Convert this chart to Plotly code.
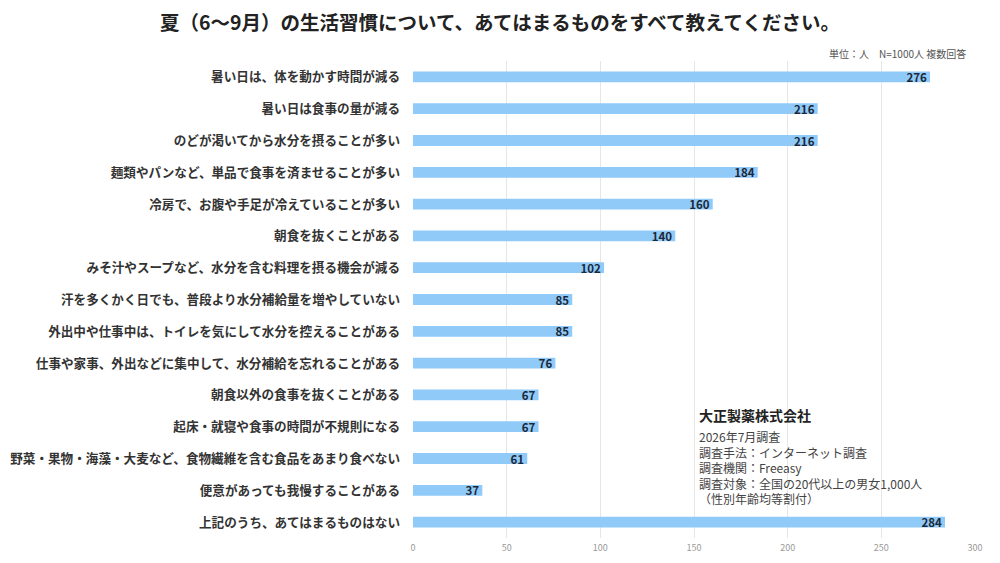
import plotly.graph_objects as go

# 回答項目（上から順）
items = [
    "暑い日は、体を動かす時間が減る",
    "暑い日は食事の量が減る",
    "のどが渇いてから水分を摂ることが多い",
    "麺類やパンなど、単品で食事を済ませることが多い",
    "冷房で、お腹や手足が冷えていることが多い",
    "朝食を抜くことがある",
    "みそ汁やスープなど、水分を含む料理を摂る機会が減る",
    "汗を多くかく日でも、普段より水分補給量を増やしていない",
    "外出中や仕事中は、トイレを気にして水分を控えることがある",
    "仕事や家事、外出などに集中して、水分補給を忘れることがある",
    "朝食以外の食事を抜くことがある",
    "起床・就寝や食事の時間が不規則になる",
    "野菜・果物・海藻・大麦など、食物繊維を含む食品をあまり食べない",
    "便意があっても我慢することがある",
    "上記のうち、あてはまるものはない",
]
counts = [276, 216, 216, 184, 160, 140, 102, 85, 85, 76, 67, 67, 61, 37, 284]
x_ticks = [0, 50, 100, 150, 200, 250, 300]

title = "夏（6～9月）の生活習慣について、あてはまるものをすべて教えてください。"
unit_note = "単位：人　N=1000人 複数回答"
company = "大正製薬株式会社"
survey_info = [
    "2026年7月調査",
    "調査手法：インターネット調査",
    "調査機関：Freeasy",
    "調査対象：全国の20代以上の男女1,000人",
    "（性別年齢均等割付）",
]

font_jp = "Noto Sans CJK JP"

# ページの余白（8px）分を差し引いたサイズ
W, H = 992, 555
L, R, T, B = 405, 25, 53, 25
plot_w = W - L - R
plot_h = H - T - B

fig = go.Figure(go.Bar(
    x=counts,
    y=items,
    orientation="h",
    width=0.34,
    marker=dict(color="#90CAF9", line=dict(width=0)),
    text=counts,
    textposition="inside",
    insidetextanchor="end",
    textangle=0,
    constraintext="none",
    textfont=dict(family=font_jp, size=11.5, color="#1b2838", weight="bold"),
    cliponaxis=False,
))

fig.update_layout(
    width=W,
    height=H,
    margin=dict(l=L, r=R, t=T, b=B),
    paper_bgcolor="white",
    plot_bgcolor="white",
    showlegend=False,
    font=dict(family=font_jp, color="#333333"),
    title=dict(
        text="<b>" + title + "</b>",
        x=(500 - 8) / W, xanchor="center",
        y=1 - (23 - 8) / H, yanchor="middle",
        font=dict(family=font_jp, size=19.5, color="#222222"),
    ),
)

fig.update_xaxes(
    range=[0, 300],
    tickvals=x_ticks,
    showgrid=True,
    gridcolor="#e6e6e6",
    gridwidth=1,
    zeroline=False,
    showline=False,
    ticks="",
    ticklabelstandoff=3,
    tickfont=dict(size=9, color="#999999"),
    automargin=False,
    fixedrange=True,
)
fig.update_yaxes(
    autorange="reversed",
    showgrid=False,
    ticks="",
    ticklabelstandoff=12,
    tickfont=dict(family=font_jp, size=12.6, color="#333333", weight="bold"),
    automargin=False,
    fixedrange=True,
)

# 単位
fig.add_annotation(
    text=unit_note, xref="paper", yref="paper",
    x=(968 - 8 - L) / plot_w, y=1.0, xanchor="right", yanchor="bottom", yshift=-2,
    showarrow=False, font=dict(family=font_jp, size=10, color="#555555"),
)

# 調査概要
fig.add_annotation(
    text="<b>" + company + "</b>", xref="paper", yref="paper",
    x=(697 - 8 - L) / plot_w, y=(H - B - (403 - 8)) / plot_h,
    xanchor="left", yanchor="top", align="left",
    showarrow=False, font=dict(family=font_jp, size=14, color="#222222"),
)
fig.add_annotation(
    text="<br>".join(survey_info), xref="paper", yref="paper",
    x=(697 - 8 - L) / plot_w, y=(H - B - (426 - 8)) / plot_h,
    xanchor="left", yanchor="top", align="left",
    showarrow=False, font=dict(family=font_jp, size=12, color="#444444"),
)

fig.write_html("out.html")
